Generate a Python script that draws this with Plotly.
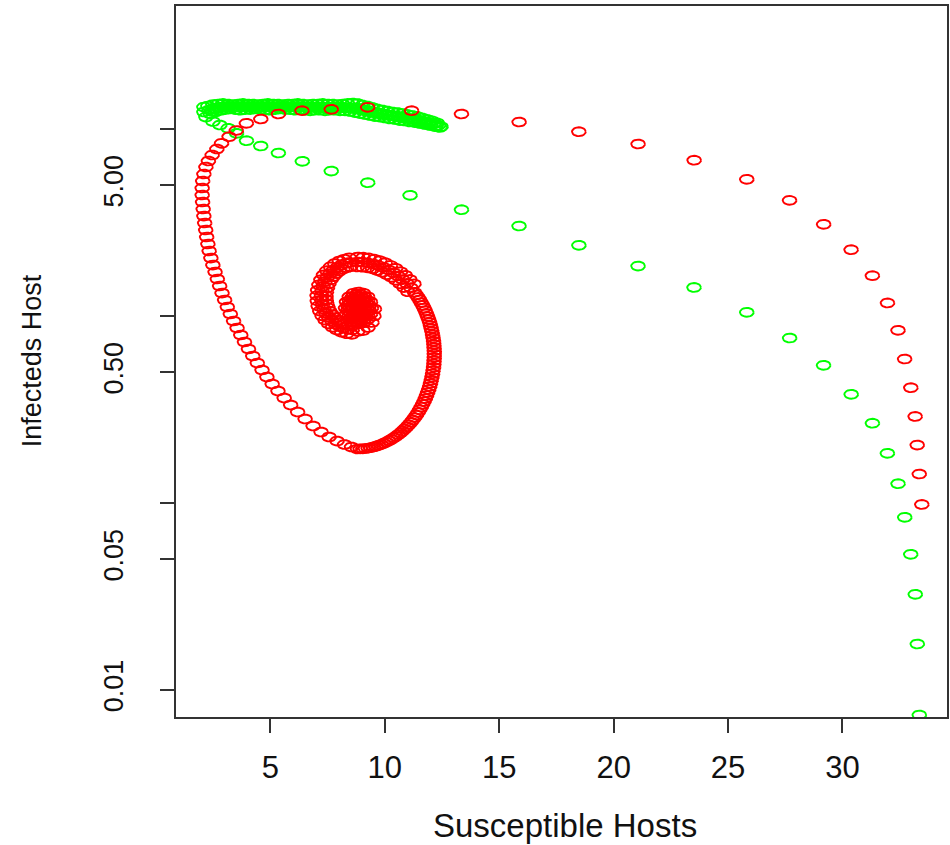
import numpy as np
import plotly.graph_objects as go

# ---- red trajectory (susceptible, infected) ----
red_approach_s = [33.47, 33.36, 33.27, 33.18, 32.99, 32.72, 32.43, 31.97, 31.31, 30.38, 29.18, 27.69, 25.82,
                  23.52, 21.07, 18.48, 15.87, 13.35, 11.17, 9.25, 7.66, 6.38, 5.35, 4.58, 3.95]
red_approach_i = [0.0982, 0.1429, 0.2042, 0.2902, 0.4136, 0.5888, 0.8386, 1.174, 1.643, 2.262, 3.093, 4.156, 5.383,
                  6.811, 8.314, 9.674, 10.90, 12.03, 12.53, 13.06, 12.75, 12.53, 12.03, 11.31, 10.73]

red_descent_s = [3.509, 3.195, 2.864, 2.659, 2.454, 2.289, 2.180, 2.092, 2.040, 2.018, 2.018, 2.036, 2.062, 2.092,
                 2.127, 2.171, 2.214, 2.267, 2.323, 2.398, 2.485, 2.581, 2.681, 2.781, 2.886, 2.999, 3.117, 3.248,
                 3.391, 3.544, 3.705, 3.867, 4.041, 4.228, 4.429, 4.634, 4.847, 5.078, 5.331, 5.602, 5.885, 6.190,
                 6.517, 6.866, 7.214, 7.563, 7.912, 8.239, 8.544]
red_descent_i = [9.817, 9.096, 8.386, 7.817, 7.260, 6.744, 6.264, 5.746, 5.272, 4.836, 4.437, 4.070, 3.734, 3.425,
                 3.143, 2.883, 2.645, 2.427, 2.227, 2.042, 1.873, 1.719, 1.577, 1.447, 1.327, 1.218, 1.117, 1.025,
                 0.9403, 0.8627, 0.7914, 0.7261, 0.6661, 0.6111, 0.5606, 0.5143, 0.4718, 0.4329, 0.3971, 0.3643,
                 0.3343, 0.3066, 0.2813, 0.2581, 0.2397, 0.2254, 0.2145, 0.2055, 0.1993]

red_rise_s = [8.806, 8.923, 9.041, 9.154, 9.272, 9.390, 9.503, 9.616, 9.730, 9.843, 9.952, 10.061, 10.170, 10.279,
              10.384, 10.484, 10.584, 10.685, 10.780, 10.872, 10.963, 11.051, 11.138, 11.221, 11.299, 11.378,
              11.452, 11.521, 11.587, 11.652, 11.713, 11.770, 11.822, 11.870, 11.918, 11.962, 11.997, 12.031,
              12.062, 12.088, 12.110, 12.132, 12.145, 12.153, 12.162, 12.162, 12.153, 12.162, 12.145, 12.132,
              12.110, 12.088, 12.062, 12.031, 11.997, 11.962, 11.918, 11.870, 11.822, 11.770, 11.713, 11.652,
              11.587, 11.521, 11.452, 11.378, 11.299]
red_rise_i = [0.1944, 0.1947, 0.1949, 0.1956, 0.1965, 0.1978, 0.1995, 0.2012, 0.2035, 0.2058, 0.2085, 0.2117,
              0.2151, 0.2188, 0.2229, 0.2273, 0.2321, 0.2374, 0.2429, 0.2491, 0.2556, 0.2626, 0.2701, 0.2779,
              0.2862, 0.2952, 0.3048, 0.3151, 0.3257, 0.3372, 0.3489, 0.3617, 0.3752, 0.3894, 0.4040, 0.4197,
              0.4361, 0.4535, 0.4718, 0.4909, 0.5112, 0.5325, 0.5545, 0.5774, 0.6013, 0.6262, 0.6775, 0.6513,
              0.7047, 0.7332, 0.7626, 0.7923, 0.8243, 0.8563, 0.8885, 0.9231, 0.9578, 0.9926, 1.0287, 1.0662,
              1.1035, 1.1422, 1.1793, 1.2193, 1.2575, 1.2965, 1.3373]

red_crest_s = [11.273, 11.138, 11.003, 11.090, 10.963, 10.837, 10.894, 10.780, 10.667, 10.685, 10.584, 10.484,
               10.471, 10.384, 10.296, 10.244, 10.170, 10.096, 10.017, 9.952, 9.887, 9.782, 9.730, 9.677,
               9.542, 9.503, 9.464, 9.298, 9.272, 9.246, 9.054, 9.041, 9.028, 8.806, 8.806, 8.806]
red_crest_i = [1.4852, 1.4156, 1.3489, 1.5695, 1.4926, 1.4190, 1.6508, 1.5656, 1.4852, 1.7276, 1.6364, 1.5502,
               1.8011, 1.7023, 1.6086, 1.8666, 1.7617, 1.6630, 1.9274, 1.8168, 1.7128, 1.9754, 1.8598, 1.7513,
               2.0148, 1.8968, 1.7857, 2.0449, 1.9226, 1.8079, 2.0624, 1.9392, 1.8235, 2.0676, 1.9443, 1.8280]

red_spiral_s = [8.448, 8.474, 8.500, 8.226, 8.278, 8.331, 8.012, 8.091, 8.169, 7.807, 7.912, 8.017, 7.624, 7.751,
                7.877, 7.463, 7.607, 7.751, 7.319, 7.480, 7.642, 7.206, 7.380, 7.554, 7.119, 7.306, 7.494, 7.066,
                7.258, 7.450, 7.040, 7.236, 7.432, 7.049, 7.245, 7.441, 7.088, 7.280, 7.472, 7.158, 7.341, 7.524,
                7.258, 7.428, 7.598, 7.389, 7.541, 7.694, 7.541, 7.677, 7.812, 7.716, 7.829, 7.943, 7.908, 7.999,
                8.091, 8.117, 8.182, 8.248, 8.335, 8.374, 8.413, 8.561, 8.575, 8.588,
                8.806, 9.045, 9.263, 9.438, 9.525, 9.547]
red_spiral_i = [2.0473, 1.9368, 1.8324, 2.0148, 1.9108, 1.8123, 1.9706, 1.8734, 1.7813, 1.9083, 1.8212, 1.7383,
                1.8324, 1.7578, 1.6856, 1.7490, 1.6856, 1.6246, 1.6589, 1.6086, 1.5598, 1.5637, 1.5260, 1.4889,
                1.4690, 1.4438, 1.4190, 1.3756, 1.3622, 1.3489, 1.2857, 1.2824, 1.2793, 1.2042, 1.2118, 1.2193,
                1.1296, 1.1450, 1.1607, 1.0622, 1.0846, 1.1076, 1.0025, 1.0313, 1.0596, 0.9508, 0.9841, 1.0186,
                0.9073, 0.9437, 0.9817, 0.8700, 0.9096, 0.9508, 0.8405, 0.8830, 0.9277, 0.8191, 0.8627, 0.9084,
                0.8042, 0.8488, 0.8962, 0.7973, 0.8425, 0.8907,
                0.8264, 0.8363, 0.8679, 0.9231, 1.0000, 1.0900]

red_core_s = [9.416, 9.372, 9.250, 9.067, 8.849, 8.631, 8.448, 8.326, 8.282, 8.326, 8.448, 8.631, 8.849, 9.067,
              9.250, 9.372,
              9.320, 9.250, 9.115, 8.945, 8.758, 8.583, 8.453, 8.378, 8.378, 8.453, 8.583, 8.758, 8.945, 9.115,
              9.250, 9.320,
              9.242, 9.189, 9.045, 8.849, 8.653, 8.509, 8.457, 8.509, 8.653, 8.849, 9.045, 9.189,
              9.146, 9.067, 8.928, 8.771, 8.631, 8.553, 8.553, 8.631, 8.771, 8.928, 9.067, 9.146,
              9.067, 9.002, 8.849, 8.697, 8.631, 8.697, 8.849, 9.002,
              8.958, 8.849, 8.740, 8.849, 8.849, 8.762, 8.936]
red_core_i = [1.1035, 1.0237, 0.9602, 0.9197, 0.9062, 0.9197, 0.9602, 1.0237, 1.1035, 1.1898, 1.2683, 1.3242,
              1.3439, 1.3242, 1.2683, 1.1898,
              1.0687, 1.0062, 0.9614, 0.9380, 0.9380, 0.9614, 1.0062, 1.0687, 1.1394, 1.2101, 1.2668, 1.2981,
              1.2981, 1.2668, 1.2101, 1.1394,
              1.1035, 1.0313, 0.9817, 0.9637, 0.9817, 1.0313, 1.1035, 1.1809, 1.2405, 1.2636, 1.2405, 1.1809,
              1.0740, 1.0250, 0.9975, 0.9975, 1.0250, 1.0740, 1.1337, 1.1882, 1.2208, 1.2208, 1.1882, 1.1337,
              1.1035, 1.0479, 1.0250, 1.0479, 1.1035, 1.1621, 1.1882, 1.1621,
              1.1035, 1.0635, 1.1035, 1.1450, 1.1035, 1.1310, 1.0767]

# ---- green trajectory (susceptible, infected) ----
green_approach_s = [33.361, 33.274, 33.186, 32.986, 32.724, 32.432, 31.966, 31.312, 30.384, 29.176, 27.694,
                    25.820, 23.514, 21.068, 18.483, 15.867, 13.352, 11.103, 9.255, 7.659, 6.395, 5.349, 4.577,
                    3.954, 3.518, 3.152, 2.790, 2.485, 2.180, 2.092, 2.092]
green_approach_i = [0.00735, 0.01762, 0.03249, 0.05318, 0.08386, 0.1268, 0.1844, 0.2671, 0.3813, 0.5450, 0.7626,
                    1.0466, 1.4209, 1.8505, 2.3886, 3.0285, 3.702, 4.4205, 5.162, 5.961, 6.719, 7.441, 8.111,
                    8.659, 9.485, 10.087, 10.505, 10.967, 11.59, 12.33, 13.11]

green_upper_s = [2.267, 2.485, 2.703, 2.921, 3.139, 3.357, 3.575, 3.793, 4.010, 4.228, 4.446, 4.664, 4.882, 5.100,
                 5.318, 5.536, 5.754, 5.972, 6.190, 6.408, 6.626, 6.844, 7.062, 7.280, 7.498, 7.716, 7.934, 8.152,
                 8.370, 8.588, 8.806, 9.024, 9.241, 9.459, 9.677, 9.895, 10.113, 10.331, 10.549, 10.767, 10.985,
                 11.203, 11.421, 11.639, 11.857, 12.075, 12.293]
green_upper_i = [13.27, 13.52, 13.6, 13.7, 13.6, 13.5, 13.6, 13.7, 13.6, 13.6, 13.5, 13.6, 13.7, 13.6, 13.6, 13.5,
                 13.6, 13.6, 13.7, 13.6, 13.5, 13.6, 13.6, 13.7, 13.6, 13.6, 13.5, 13.6, 13.7, 13.77, 13.69, 13.44,
                 13.27, 13.03, 12.79, 12.64, 12.48, 12.33, 12.25, 12.10, 11.96, 11.81, 11.66, 11.45, 11.24, 11.04,
                 10.77]

green_mid_a_s = [2.322, 2.540, 2.758, 2.976, 3.194, 3.412, 3.630, 3.848, 4.065, 4.283, 4.501, 4.719, 4.937, 5.155,
                 5.373, 5.591, 5.809, 6.027, 6.245, 6.463, 6.681, 6.899, 7.117, 7.335, 7.553, 7.771, 7.989, 8.207,
                 8.425, 8.643, 8.861, 9.079, 9.296, 9.514, 9.732, 9.950, 10.168, 10.386, 10.604, 10.822, 11.040,
                 11.258, 11.476, 11.694, 11.912, 12.130, 12.348]
green_mid_a_i = [12.65, 12.93, 13.08, 13.1, 13.2, 13.1, 13.1, 13.2, 13.1, 13.2, 13.1, 13.1, 13.2, 13.1, 13.1, 13.2,
                 13.1, 13.2, 13.1, 13.1, 13.0, 13.1, 13.1, 13.0, 13.1, 13.1, 13.0, 13.0, 13.05, 13.01, 12.90, 12.70,
                 12.54, 12.35, 12.19, 12.05, 11.90, 11.79, 11.68, 11.57, 11.43, 11.32, 11.18, 11.01, 10.84, 10.68,
                 10.48]

green_mid_b_s = [2.431, 2.649, 2.867, 3.085, 3.303, 3.521, 3.739, 3.957, 4.174, 4.392, 4.610, 4.828, 5.046, 5.264,
                 5.482, 5.700, 5.918, 6.136, 6.354, 6.572, 6.790, 7.008, 7.226, 7.444, 7.662, 7.880, 8.098, 8.316,
                 8.534, 8.752, 8.970, 9.188, 9.405, 9.623, 9.841, 10.059, 10.277, 10.495, 10.713, 10.931, 11.149,
                 11.367, 11.585, 11.803, 12.021, 12.239, 12.457]
green_mid_b_i = [12.45, 12.80, 13.0, 13.2, 13.1, 13.2, 13.2, 13.1, 13.2, 13.1, 13.2, 13.2, 13.1, 13.2, 13.2, 13.1,
                 13.2, 13.1, 13.2, 13.1, 13.1, 13.0, 13.1, 13.1, 13.0, 13.0, 13.1, 12.95, 12.93, 12.80, 12.62,
                 12.46, 12.28, 12.12, 11.98, 11.85, 11.74, 11.62, 11.50, 11.38, 11.25, 11.10, 10.93, 10.76, 10.58,
                 10.40, 10.30]

green_lower_s = [2.376, 2.594, 2.812, 3.030, 3.248, 3.466, 3.684, 3.902, 4.119, 4.337, 4.555, 4.773, 4.991, 5.209,
                 5.427, 5.645, 5.863, 6.081, 6.299, 6.517, 6.735, 6.953, 7.171, 7.389, 7.607, 7.825, 8.043, 8.261,
                 8.479, 8.697, 8.915, 9.133, 9.350, 9.568, 9.786, 10.004, 10.222, 10.440, 10.658, 10.876, 11.094,
                 11.312, 11.530, 11.748, 11.966, 12.184, 12.402]
green_lower_i = [12.03, 12.33, 12.56, 12.7, 12.8, 12.7, 12.6, 12.7, 12.7, 12.8, 12.7, 12.7, 12.6, 12.7, 12.8, 12.7,
                 12.7, 12.6, 12.7, 12.6, 12.5, 12.6, 12.6, 12.5, 12.6, 12.6, 12.5, 12.5, 12.41, 12.25, 12.10, 11.96,
                 11.81, 11.66, 11.59, 11.45, 11.31, 11.24, 11.10, 11.04, 10.90, 10.83, 10.70, 10.57, 10.44, 10.31,
                 10.19]

red_s = red_approach_s + red_descent_s + red_rise_s + red_crest_s + red_spiral_s + red_core_s
red_i = red_approach_i + red_descent_i + red_rise_i + red_crest_i + red_spiral_i + red_core_i
green_s = green_approach_s + green_upper_s + green_mid_a_s + green_mid_b_s + green_lower_s
green_i = green_approach_i + green_upper_i + green_mid_a_i + green_mid_b_i + green_lower_i

x_ticks = [5, 10, 15, 20, 25, 30]
y_ticks = [0.01, 0.05, 0.1, 0.5, 1, 5, 10]
y_tick_text = ["0.01", "0.05", "", "0.50", "", "5.00", ""]

# open "o" symbols, a little wider than tall, traced as outlines on the data axes
ANGLES = np.linspace(0, 2 * np.pi, 25)
HALF_W = 0.300     # half-width in susceptible units
HALF_H = 0.0235    # half-height in decades of the log axis


def symbol_outlines(xs, ys):
    ox, oy = [], []
    for x, y in zip(xs, ys):
        ox.extend((x + HALF_W * np.cos(ANGLES)).tolist())
        oy.extend((y * 10 ** (HALF_H * np.sin(ANGLES))).tolist())
        ox.append(None)
        oy.append(None)
    return ox, oy


fig = go.Figure()
for s_vals, i_vals, colour in [(green_s, green_i, "#00FF00"), (red_s, red_i, "#FF0000")]:
    ox, oy = symbol_outlines(s_vals, i_vals)
    fig.add_trace(go.Scatter(x=ox, y=oy, mode="lines", line=dict(color=colour, width=1.9),
                             hoverinfo="skip", showlegend=False))

axis_common = dict(showline=True, linecolor="#333333", linewidth=1.5, mirror=True, showgrid=False,
                   zeroline=False, ticks="outside", ticklen=14, tickwidth=1.5, tickcolor="#333333")

fig.update_xaxes(range=[0.872, 34.57], tickvals=x_ticks, ticktext=[str(v) for v in x_ticks],
                 ticklabelstandoff=8, tickfont=dict(size=31, color="#111111"), **axis_common)
fig.update_yaxes(type="log", range=[-2.1444, 1.6578], tickvals=y_ticks, ticktext=y_tick_text,
                 tickangle=-90, ticklabelstandoff=26, tickfont=dict(size=27, color="#111111"), **axis_common)

fig.update_layout(
    width=950, height=845,
    margin=dict(l=176, r=1, t=6, b=128),
    plot_bgcolor="white", paper_bgcolor="white",
    font=dict(family="Liberation Sans, Arial, sans-serif", size=26, color="#111111"),
    showlegend=False,
    annotations=[
        dict(text="Susceptible Hosts", xref="paper", yref="paper", x=0.5045, y=-0.1533,
             xanchor="center", yanchor="middle", showarrow=False, font=dict(size=33)),
        dict(text="Infecteds Host", xref="paper", yref="paper", x=-0.1863, y=0.5007,
             xanchor="center", yanchor="middle", textangle=-90, showarrow=False, font=dict(size=27)),
    ],
)

fig.write_html("out.html")
